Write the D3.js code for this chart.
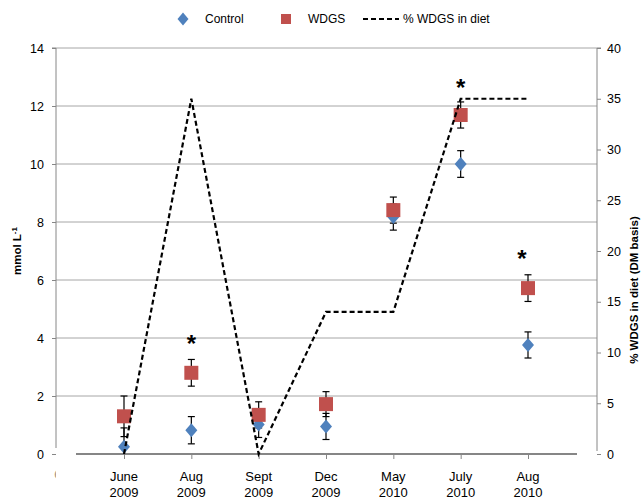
<!DOCTYPE html>
<html><head><meta charset="utf-8">
<script src="https://cdn.jsdelivr.net/npm/d3@7/dist/d3.min.js"></script>
<style>body{margin:0;background:#fff}svg{display:block;font-family:"Liberation Sans",Arial,sans-serif}</style>
</head><body>
<svg id="c" width="643" height="499"></svg>
<script>
const categories = ["June 2009","Aug 2009","Sept 2009","Dec 2009","May 2010","July 2010","Aug 2010"];
const control    = [0.25, 0.82, 1.02, 0.95, 8.17, 10.0, 3.76];
const controlErr = [0.65, 0.47, 0.45, 0.45, 0.45, 0.46, 0.45];
const wdgs       = [1.30, 2.80, 1.35, 1.72, 8.41, 11.69, 5.72];
const wdgsErr    = [0.70, 0.46, 0.45, 0.43, 0.45, 0.45, 0.46];
const pctWDGS    = [0, 35, 0, 14, 14, 35, 35];
const starCats   = ["Aug 2009","July 2010","Aug 2010"];
const starY      = [4.0, 12.8, 6.93];
const leftTicks  = [0,2,4,6,8,10,12,14];
const rightTicks = [0,5,10,15,20,25,30,35,40];

const svg = d3.select("#c");
const L = 56, R = 597, T = 48, B = 454;
const x = d3.scalePoint().domain(categories).range([124, 528]);
const yL = d3.scaleLinear().domain([0,14]).range([B,T]);
const yR = d3.scaleLinear().domain([0,40]).range([B,T]);
const blue = "#4F81BD", red = "#C0504D";

// gridlines
svg.append("g").selectAll("line").data(leftTicks.filter(d=>d>0)).join("line")
  .attr("x1",L).attr("x2",R).attr("y1",d=>yL(d)).attr("y2",d=>yL(d))
  .attr("stroke","#A6A6A6").attr("stroke-width",1);

// left axis
const gl = svg.append("g").attr("transform",`translate(${L},0)`)
  .call(d3.axisLeft(yL).tickValues(leftTicks).tickSize(4).tickPadding(8));
gl.select(".domain").attr("stroke","#868686").attr("d",`M-4,${T}H0V${B-6}`);
gl.selectAll(".tick line").attr("stroke","#868686");
gl.selectAll("text").attr("font-size",12.5).attr("fill","#000").attr("font-family","Liberation Sans, Arial, sans-serif");

// right axis
const gr = svg.append("g").attr("transform",`translate(${R},0)`)
  .call(d3.axisRight(yR).tickValues(rightTicks).tickSize(4).tickPadding(6));
gr.select(".domain").attr("stroke","#868686").attr("d",`M4,${T}H0V${B-3}`);
gr.selectAll(".tick line").attr("stroke","#868686");
gr.selectAll("text").attr("font-size",12.5).attr("fill","#000").attr("font-family","Liberation Sans, Arial, sans-serif");

// x axis
const gx = svg.append("g").attr("transform",`translate(0,${B})`)
  .call(d3.axisBottom(x).tickSize(5).tickFormat(""));
gx.select(".domain").attr("stroke","#868686").attr("stroke-width",1.8).attr("d","M76,0H577");
gx.selectAll(".tick line").attr("stroke","#868686");
const xl = svg.append("g").selectAll("text").data(categories).join("text")
  .attr("text-anchor","middle").attr("font-size",13).attr("fill","#000");
xl.append("tspan").attr("x",d=>x(d)).attr("y",481).text(d=>d.split(" ")[0]);
xl.append("tspan").attr("x",d=>x(d)).attr("y",497).text(d=>d.split(" ")[1]);

// clipped artifact label
svg.append("clipPath").attr("id","lc").append("rect").attr("x",0).attr("y",460).attr("width",55.5).attr("height",30);
svg.append("text").attr("clip-path","url(#lc)").attr("x",58).attr("y",479).attr("text-anchor","middle")
  .attr("font-size",13).attr("fill","#000").text("0");

// axis titles
svg.append("text").attr("transform","translate(21,251) rotate(-90)").attr("text-anchor","middle")
  .attr("font-size",11.5).attr("font-weight","bold").attr("fill","#000")
  .html('mmol L<tspan dy="-4" font-size="8">-1</tspan>');
svg.append("text").attr("transform","translate(638,290) rotate(-90)").attr("text-anchor","middle")
  .attr("font-size",11.5).attr("font-weight","bold").attr("fill","#000")
  .text("% WDGS in diet (DM basis)");

// clip for data
svg.append("clipPath").attr("id","pc").append("rect").attr("x",L).attr("y",0).attr("width",R-L).attr("height",B);

const eb = svg.append("g").attr("clip-path","url(#pc)").attr("stroke","#000").attr("stroke-width",1.2);
function errBars(vals, errs){
  const g = eb.append("g");
  vals.forEach((v,i)=>{
    const cx = x(categories[i]);
    g.append("line").attr("x1",cx).attr("x2",cx).attr("y1",yL(v+errs[i])).attr("y2",yL(v-errs[i]));
    [v+errs[i], v-errs[i]].forEach(e=>{
      g.append("line").attr("x1",cx-3.5).attr("x2",cx+3.5).attr("y1",yL(e)).attr("y2",yL(e));
    });
  });
}
errBars(control, controlErr);
errBars(wdgs, wdgsErr);

// markers
svg.append("g").selectAll("path").data(control).join("path")
  .attr("transform",(d,i)=>`translate(${x(categories[i])},${yL(d)})`)
  .attr("d","M0,-7L6,0L0,7L-6,0Z").attr("fill",blue);
svg.append("g").selectAll("rect").data(wdgs).join("rect")
  .attr("x",(d,i)=>x(categories[i])-7).attr("y",d=>yL(d)-7).attr("width",14).attr("height",14).attr("fill",red);

// %WDGS line
svg.append("path").datum(pctWDGS)
  .attr("d",d3.line().x((d,i)=>x(categories[i])).y(d=>yR(d)))
  .attr("fill","none").attr("stroke","#000").attr("stroke-width",2.2).attr("stroke-dasharray","5,3");

// asterisks
svg.append("g").selectAll("text").data(starCats).join("text")
  .attr("x",(d,i)=>x(d)-(i===2?6:0)).attr("y",(d,i)=>yL(starY[i])+13.5)
  .attr("text-anchor","middle").attr("font-size",24).attr("font-weight","bold").attr("fill","#000").text("*");

// legend
const lg = svg.append("g").attr("font-size",12).attr("fill","#000");
lg.append("path").attr("d","M183,12.5L188.5,19L183,25.5L177.5,19Z").attr("fill",blue);
lg.append("text").attr("x",205).attr("y",23).text("Control");
lg.append("rect").attr("x",281).attr("y",14).attr("width",10).attr("height",10).attr("fill",red);
lg.append("text").attr("x",308).attr("y",23).text("WDGS");
lg.append("line").attr("x1",363).attr("x2",399).attr("y1",19).attr("y2",19)
  .attr("stroke","#000").attr("stroke-width",2).attr("stroke-dasharray","5,3");
lg.append("text").attr("x",403).attr("y",23).text("% WDGS in diet");
</script>
</body></html>
